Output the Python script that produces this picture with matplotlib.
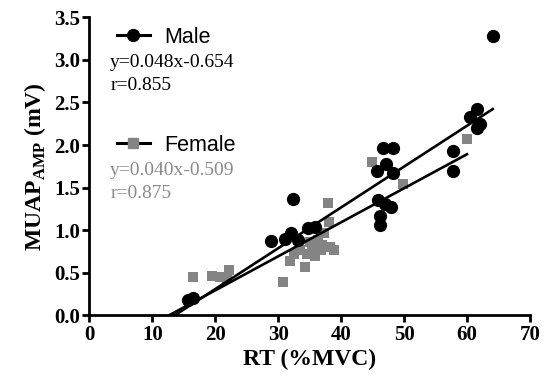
import matplotlib
matplotlib.use("Agg")
import matplotlib.pyplot as plt
from matplotlib.lines import Line2D
import numpy as np

plt.rcParams['font.family'] = 'Liberation Serif'
plt.rcParams['mathtext.fontset'] = 'custom'
plt.rcParams['mathtext.rm'] = 'Liberation Serif:bold'
plt.rcParams['mathtext.bf'] = 'Liberation Serif:bold'

# male (black circles)
male_x = [15.7, 16.5, 28.8, 31.1, 32.1, 32.4, 33.2, 34.8, 35.9,
          45.7, 45.9, 46.2, 46.2, 46.7, 47.0, 47.2, 48.0, 48.3, 48.3,
          57.8, 57.8, 60.5, 61.6, 61.6, 62.1, 64.1]
male_y = [0.18, 0.20, 0.87, 0.90, 0.96, 1.37, 0.88, 1.02, 1.04,
          1.69, 1.35, 1.16, 1.06, 1.96, 1.31, 1.78, 1.27, 1.96, 1.67,
          1.93, 1.70, 2.33, 2.42, 2.20, 2.25, 3.28]

# female (gray squares)
female_x = [16.5, 19.4, 20.7, 21.8, 22.2, 30.8, 31.8, 32.5, 33.5, 34.3,
            34.5, 35.0, 35.3, 35.8, 36.3, 36.8, 37.0, 37.3, 37.9, 38.1,
            38.3, 38.8, 44.9, 49.9, 60.0]
female_y = [0.45, 0.46, 0.45, 0.43, 0.53, 0.39, 0.64, 0.72, 0.76, 0.57,
            0.72, 0.86, 0.80, 0.70, 0.88, 0.76, 0.82, 0.96, 1.32, 1.10,
            0.80, 0.76, 1.80, 1.54, 2.07]

male_fit = (0.048, -0.654, 0.855)
female_fit = (0.040, -0.509, 0.875)

black = '#000000'
gray = '#848484'
gray_txt = '#8a8a8a'

fig = plt.figure(figsize=(5.44, 3.88), dpi=100)
ax = fig.add_axes([0.1645, 0.188, 0.8095, 0.767])

ax.plot(male_x, male_y, 'o', color=black, markersize=8.5, zorder=3)
ax.plot(female_x, female_y, 's', color=gray, markersize=7.8, markeredgewidth=0, zorder=2)

for (m, b, r), xs in [(male_fit, male_x), (female_fit, female_x)]:
    xl = np.array([-b / m, max(xs)])
    ax.plot(xl, m * xl + b, color=black, linewidth=1.9, zorder=4)

ax.set_xlim(0, 70)
ax.set_ylim(0, 3.5)
ax.set_xticks(range(0, 71, 10))
ax.set_yticks(np.arange(0, 3.51, 0.5))
ax.yaxis.set_major_formatter(matplotlib.ticker.FormatStrFormatter('%.1f'))

for s in ['top', 'right']:
    ax.spines[s].set_visible(False)
for s in ['left', 'bottom']:
    ax.spines[s].set_linewidth(2.0)
ax.tick_params(direction='out', length=5, width=2.0, labelsize=15, pad=2)
for lab in ax.get_xticklabels() + ax.get_yticklabels():
    lab.set_fontweight('bold')

ax.set_xlabel('RT (%MVC)', fontsize=17, fontweight='bold', labelpad=3)
ax.set_ylabel(r'MUAP$_{\mathrm{AMP}}$ (mV)', fontsize=17, fontweight='bold', labelpad=4)

# legend entries with equations
h_m = Line2D([], [], color=black, marker='o', markersize=8.5, linewidth=2.2)
h_f = Line2D([], [], color=black, marker='s', markersize=7.8, linewidth=2.2,
             markerfacecolor=gray, markeredgecolor=gray)
kw = dict(frameon=False, loc='center left', borderpad=0, borderaxespad=0,
          handlelength=1.55, handletextpad=0.65,
          prop={'family': 'Liberation Sans', 'size': 15.5})
leg1 = ax.legend([h_m], ['Male'], bbox_to_anchor=(0.062, 0.934), **kw)
ax.add_artist(leg1)
ax.legend([h_f], ['Female'], bbox_to_anchor=(0.062, 0.571), **kw)

m, b, r = male_fit
ax.text(0.047, 0.847, f'y={m:.3f}x{b:.3f}', transform=ax.transAxes,
        fontsize=14, va='center', color=black)
ax.text(0.047, 0.770, f'r={r:.3f}', transform=ax.transAxes,
        fontsize=14, va='center', color=black)
m, b, r = female_fit
ax.text(0.047, 0.487, f'y={m:.3f}x{b:.3f}', transform=ax.transAxes,
        fontsize=14, va='center', color=gray_txt)
ax.text(0.047, 0.410, f'r={r:.3f}', transform=ax.transAxes,
        fontsize=14, va='center', color=gray_txt)

fig.savefig('out.png', dpi=100)
